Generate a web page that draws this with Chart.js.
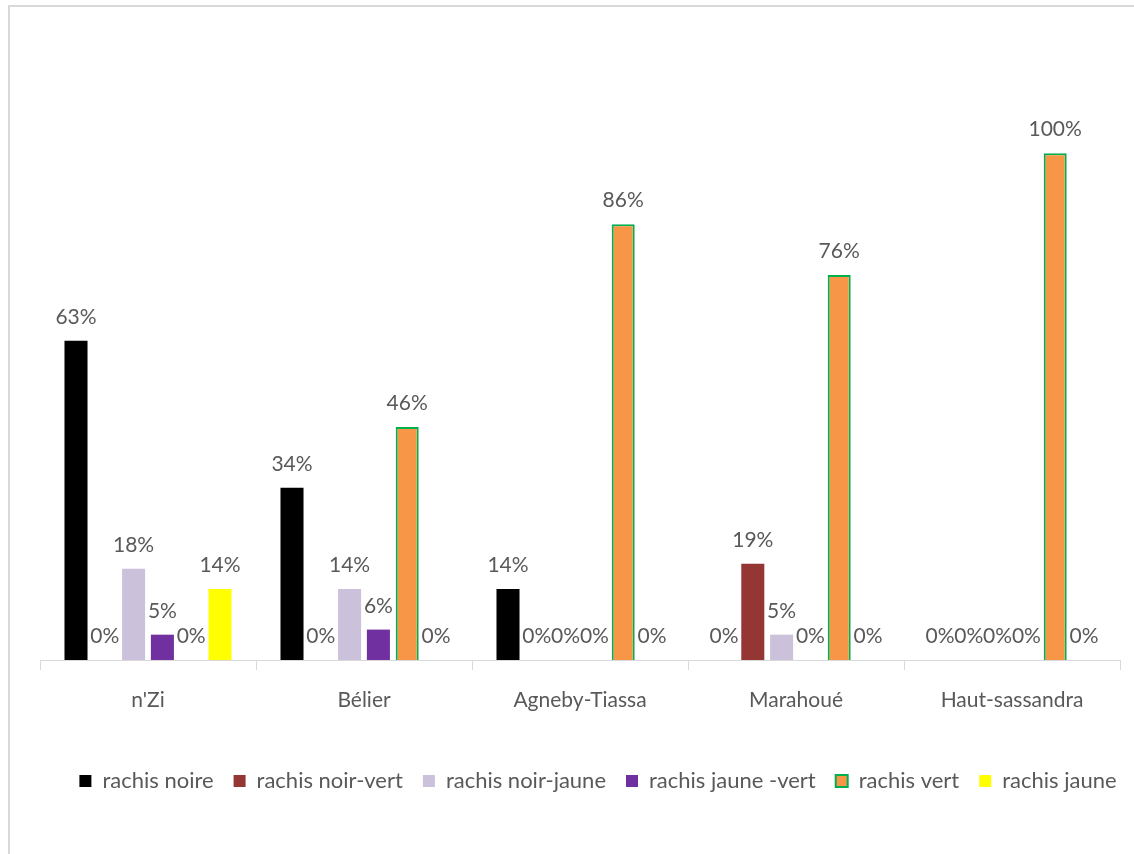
<!DOCTYPE html>
<html>
<head>
<meta charset="utf-8">
<script src="https://cdn.jsdelivr.net/npm/chart.js@4"></script>
<style>
  html, body { margin: 0; padding: 0; background: #fff; overflow: hidden; }
  .frame { position: absolute; left: 8px; top: 5px; width: 1200px; height: 900px;
           border-left: 2px solid #d9d9d9; border-top: 2px solid #d9d9d9; }
  .wrap { position: absolute; left: 0; top: 0; width: 1134px; height: 854px; }
</style>
</head>
<body>
<div class="frame"></div>
<div class="wrap"><canvas id="chart"></canvas></div>
<script>
const regions = ["n'Zi", 'Bélier', 'Agneby-Tiassa', 'Marahoué', 'Haut-sassandra'];
const rachisNoire = [63, 34, 14, 0, 0];
const rachisNoirVert = [0, 0, 0, 19, 0];
const rachisNoirJaune = [18, 14, 0, 5, 0];
const rachisJauneVert = [5, 6, 0, 0, 0];
const rachisVert = [0, 46, 86, 76, 100];
const rachisJaune = [14, 0, 0, 0, 0];

const textColor = '#595959';
const fontName = 'Lato, "Open Sans", sans-serif';

const barLabels = {
  id: 'barLabels',
  afterDatasetsDraw(chart) {
    const ctx = chart.ctx;
    ctx.save();
    ctx.font = '21px ' + fontName;
    ctx.fillStyle = textColor;
    ctx.textAlign = 'center';
    ctx.textBaseline = 'alphabetic';
    chart.data.datasets.forEach(function (ds, i) {
      chart.getDatasetMeta(i).data.forEach(function (bar, j) {
        ctx.fillText(ds.data[j] + '%', bar.x, bar.y - 17);
      });
    });
    ctx.restore();
  }
};

// nudge the legend a little to the right, like the original
const legendShift = {
  id: 'legendShift',
  afterLayout(chart) {
    if (chart.legend) {
      chart.legend.left += 18;
      chart.legend.right += 18;
    }
  }
};

function series(label, data, color, border) {
  return {
    label: label,
    data: data,
    backgroundColor: color,
    borderColor: border || color,
    borderWidth: border ? function (c) { return c.raw ? 2 : 0; } : 0,
    legendBorder: border ? 2 : 0,
    categoryPercentage: 0.8,
    barPercentage: 0.8
  };
}

new Chart(document.getElementById('chart'), {
  type: 'bar',
  data: {
    labels: regions,
    datasets: [
      series('rachis noire', rachisNoire, '#000000'),
      series('rachis noir-vert', rachisNoirVert, '#943634'),
      series('rachis noir-jaune', rachisNoirJaune, '#ccc1da'),
      series('rachis jaune -vert', rachisJauneVert, '#7030a0'),
      series('rachis vert', rachisVert, '#f79646', '#00b050'),
      series('rachis jaune', rachisJaune, '#ffff00')
    ]
  },
  options: {
    responsive: true,
    maintainAspectRatio: false,
    animation: false,
    layout: { padding: { left: 40, right: 14, top: 52, bottom: 52 } },
    plugins: {
      tooltip: { enabled: false },
      legend: {
        position: 'bottom',
        labels: {
          boxWidth: 12,
          boxHeight: 12,
          padding: 20,
          color: textColor,
          font: { family: fontName, size: 22 },
          generateLabels: function (chart) {
            return chart.data.datasets.map(function (ds, i) {
              return {
                text: ds.label,
                fillStyle: ds.backgroundColor,
                strokeStyle: ds.borderColor,
                lineWidth: ds.legendBorder,
                fontColor: textColor,
                hidden: false,
                datasetIndex: i
              };
            });
          }
        }
      }
    },
    scales: {
      y: {
        display: false,
        min: 0,
        max: 120
      },
      x: {
        grid: {
          offset: true,
          drawOnChartArea: false,
          drawTicks: true,
          tickLength: 10,
          color: '#d9d9d9'
        },
        border: { display: true, color: '#d9d9d9', width: 1 },
        ticks: {
          color: textColor,
          padding: 18,
          font: { family: fontName, size: 21 }
        },
        afterFit: function (scale) { scale.height = 90; }
      }
    }
  },
  plugins: [barLabels, legendShift]
});
</script>
</body>
</html>
